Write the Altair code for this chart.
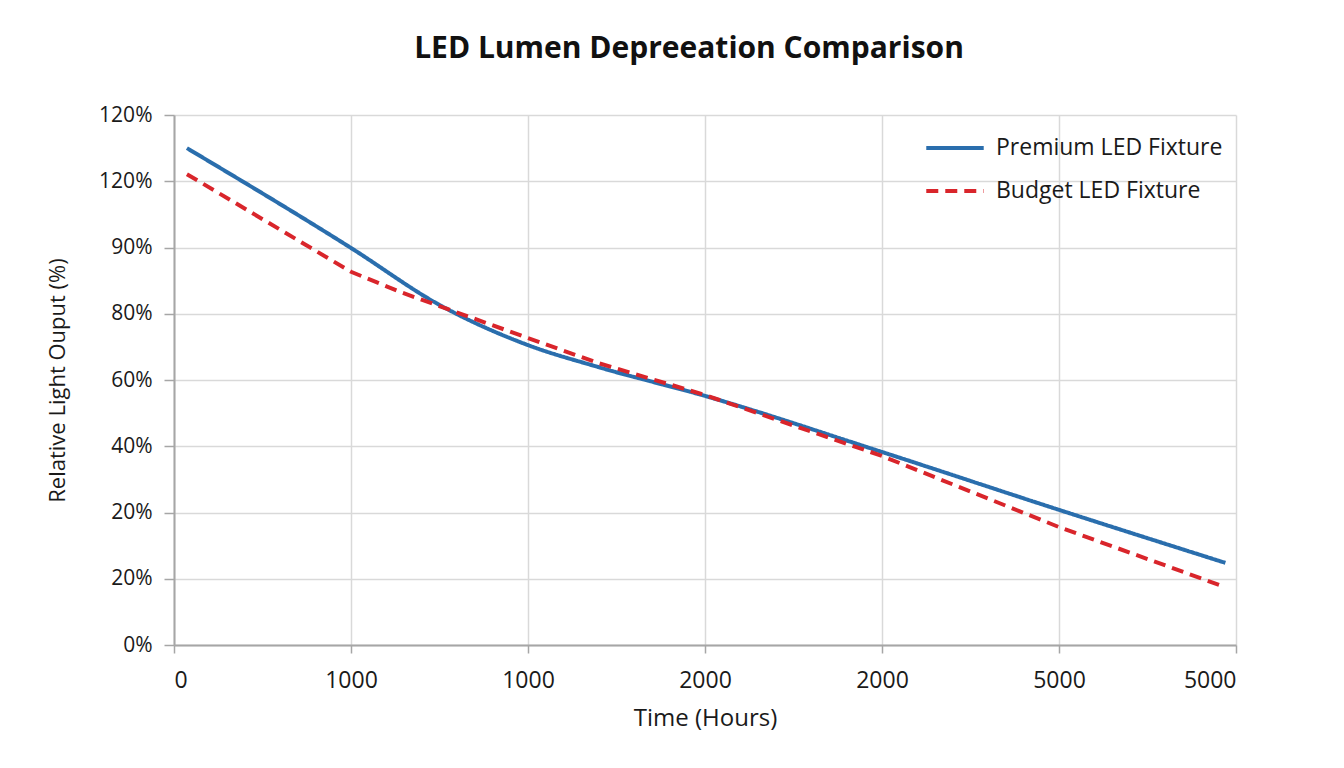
import json
import altair as alt
import pandas as pd

# ---- data ----
series_names = ["Premium LED Fixture", "Budget LED Fixture"]

premium_hours = [73, 1000, 1500, 2000, 2400, 3000, 4000, 5000, 5940]
premium_values = [112.5, 89.9, 77.0, 67.9, 62.9, 56.4, 43.7, 30.6, 18.6]

budget_hours = [73, 1000, 1280, 2000, 2400, 3000, 4000, 5000, 5940]
budget_values = [106.6, 84.5, 79.9, 69.5, 63.8, 56.6, 42.8, 26.7, 13.1]

x_tick_values = [0, 1000, 2000, 3000, 4000, 5000, 6000]
x_tick_labels = ["0", "1000", "1000", "2000", "2000", "5000", "5000"]
y_tick_values = [0, 15, 30, 45, 60, 75, 90, 105, 120]
y_tick_labels = ["0%", "20%", "20%", "40%", "60%", "80%", "90%", "120%", "120%"]

colors = ["#2a6ead", "#d9252b"]
dashes = [[1, 0], [12, 7]]

rows = []
for h, v in zip(premium_hours, premium_values):
    rows.append({"hours": h, "value": v, "series": series_names[0]})
for h, v in zip(budget_hours, budget_values):
    rows.append({"hours": h, "value": v, "series": series_names[1]})
df = pd.DataFrame(rows)

FONT = "Open Sans"

x_expr = json.dumps(x_tick_labels) + "[round(datum.value/1000)]"
y_expr = json.dumps(y_tick_labels) + "[round(datum.value/15)]"

base = alt.Chart(df).encode(
    x=alt.X(
        "hours:Q",
        scale=alt.Scale(domain=[0, 6000], nice=False, zero=False),
        axis=alt.Axis(
            values=x_tick_values,
            labelExpr=x_expr,
            title="Time (Hours)",
            titleFontSize=24,
            titleFontWeight="normal",
            titlePadding=14,
            labelFontSize=23,
            labelPadding=16,
            tickSize=8,
        ),
    ),
    y=alt.Y(
        "value:Q",
        scale=alt.Scale(domain=[0, 120], nice=False),
        axis=alt.Axis(
            values=y_tick_values,
            labelExpr=y_expr,
            title="Relative Light Ouput (%)",
            titleFontSize=22,
            titleFontWeight="normal",
            titleX=-117,
            titleY=265,
            titleAngle=-90,
            titleBaseline="middle",
            titleAlign="center",
            labelFontSize=21,
            labelPadding=12,
            tickSize=10,
        ),
    ),
    color=alt.Color(
        "series:N",
        scale=alt.Scale(domain=series_names, range=colors),
        legend=alt.Legend(
            title=None,
            orient="none",
            legendX=750,
            legendY=2,
            symbolType="stroke",
            symbolSize=3300,
            symbolStrokeWidth=4,
            labelFontSize=23,
            labelOffset=10,
            labelLimit=400,
            rowPadding=-20,
            padding=0,
        ),
    ),
    strokeDash=alt.StrokeDash(
        "series:N",
        scale=alt.Scale(domain=series_names, range=dashes),
        legend=None,
    ),
)

premium = base.transform_filter(alt.datum.series == series_names[0]).mark_line(
    strokeWidth=4, interpolate="monotone"
)
budget = base.transform_filter(alt.datum.series == series_names[1]).mark_line(
    strokeWidth=4, interpolate="linear"
)

chart = (
    alt.layer(premium, budget)
    .properties(
        width=1062,
        height=530,
        title=alt.TitleParams(
            "LED Lumen Depreeation Comparison",
            fontSize=30,
            fontWeight="bold",
            font=FONT,
            color="#111111",
            anchor="middle",
            offset=40,
            dx=-16,
        ),
        autosize=alt.AutoSizeParams(type="none"),
        padding={"left": 174, "top": 115, "right": 108, "bottom": 123},
        background="white",
    )
    .configure_axis(
        labelFont=FONT,
        titleFont=FONT,
        labelColor="#1a1a1a",
        titleColor="#1a1a1a",
        gridColor="#d9d9d9",
        gridWidth=1.5,
        domainColor="#a6a6a6",
        domainWidth=2,
        tickColor="#a6a6a6",
        tickWidth=1.5,
    )
    .configure_legend(labelFont=FONT, labelColor="#1a1a1a")
    .configure_view(stroke=None)
)

chart.save("out.html", embed_options={"renderer": "svg", "actions": False})
